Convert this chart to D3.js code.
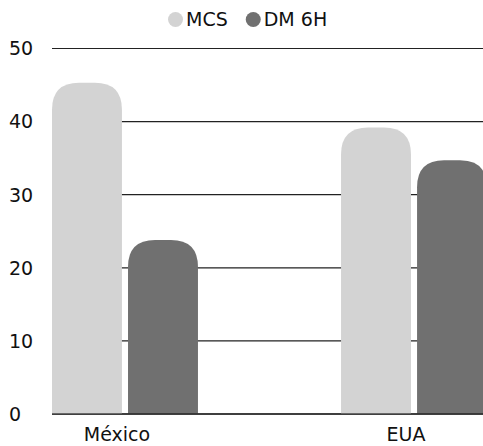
<!DOCTYPE html>
<html>
<head>
    <meta charset="utf-8">
    <script src="https://cdnjs.cloudflare.com/ajax/libs/d3/7.8.5/d3.min.js"></script>
    <style>
        body { margin: 0; background: #fff; }
        text { font-family: "DejaVu Sans", sans-serif; fill: #111; }
    </style>
</head>
<body>
    <div id="chart"></div>
    <script>
        const width = 483;
        const height = 446;

        // data
        const categories = ["México", "EUA"];
        const seriesNames = ["MCS", "DM 6H"];
        const mcsValues = [45.3, 39.2];
        const dmValues = [23.8, 34.7];
        const yTicks = [0, 10, 20, 30, 40, 50];
        const colors = ["#d3d3d3", "#707070"];

        const svg = d3.select("#chart").append("svg")
            .attr("width", width)
            .attr("height", height);

        const y = d3.scaleLinear().domain([0, 50]).range([414, 48.5]);

        const x = d3.scaleBand()
            .domain(categories)
            .range([52, 487])
            .paddingInner(0.495)
            .paddingOuter(0);

        const xInner = d3.scaleBand()
            .domain(seriesNames)
            .range([0, x.bandwidth()])
            .paddingInner(0.08);

        const color = d3.scaleOrdinal().domain(seriesNames).range(colors);

        // gridlines + tick labels
        yTicks.forEach(t => {
            svg.append("line")
                .attr("x1", 52).attr("x2", width)
                .attr("y1", y(t)).attr("y2", y(t))
                .attr("stroke", t === 0 ? "#000" : "#222")
                .attr("stroke-width", 1.2);
            svg.append("text")
                .attr("x", 9)
                .attr("y", y(t))
                .attr("dy", "0.36em")
                .attr("font-size", 19)
                .text(t);
        });

        // bars with rounded tops
        function topRounded(x0, y0, w, h, r) {
            r = Math.min(r, w / 2, h);
            return `M${x0},${y0 + h}V${y0 + r}Q${x0},${y0} ${x0 + r},${y0}` +
                `H${x0 + w - r}Q${x0 + w},${y0} ${x0 + w},${y0 + r}V${y0 + h}Z`;
        }

        const rows = categories.map((c, i) => ({
            cat: c,
            vals: [
                { s: seriesNames[0], v: mcsValues[i] },
                { s: seriesNames[1], v: dmValues[i] }
            ]
        }));

        const groups = svg.selectAll(".grp").data(rows).enter()
            .append("g")
            .attr("transform", d => `translate(${x(d.cat)},0)`);

        groups.selectAll("path").data(d => d.vals).enter()
            .append("path")
            .attr("d", d => topRounded(xInner(d.s), y(d.v), xInner.bandwidth(), y(0) - y(d.v), 27))
            .attr("fill", d => color(d.s));

        // bottom axis line on top of bars
        svg.append("line")
            .attr("x1", 52).attr("x2", width)
            .attr("y1", y(0)).attr("y2", y(0))
            .attr("stroke", "#000").attr("stroke-width", 1.2);

        // category labels
        svg.selectAll(".cat").data(categories).enter()
            .append("text")
            .attr("x", d => x(d) + x.bandwidth() / 2 - 8)
            .attr("y", 434)
            .attr("dy", "0.36em")
            .attr("text-anchor", "middle")
            .attr("font-size", 19)
            .text(d => d);

        // legend
        const legend = svg.append("g");
        let lx = 168;
        seriesNames.forEach(s => {
            legend.append("circle")
                .attr("cx", lx + 7.5).attr("cy", 19.5).attr("r", 7.5)
                .attr("fill", color(s));
            const t = legend.append("text")
                .attr("x", lx + 18).attr("y", 19.5)
                .attr("dy", "0.36em")
                .attr("font-size", 19)
                .text(s);
            lx += 18 + t.node().getComputedTextLength() + 18;
        });
    </script>
</body>
</html>
